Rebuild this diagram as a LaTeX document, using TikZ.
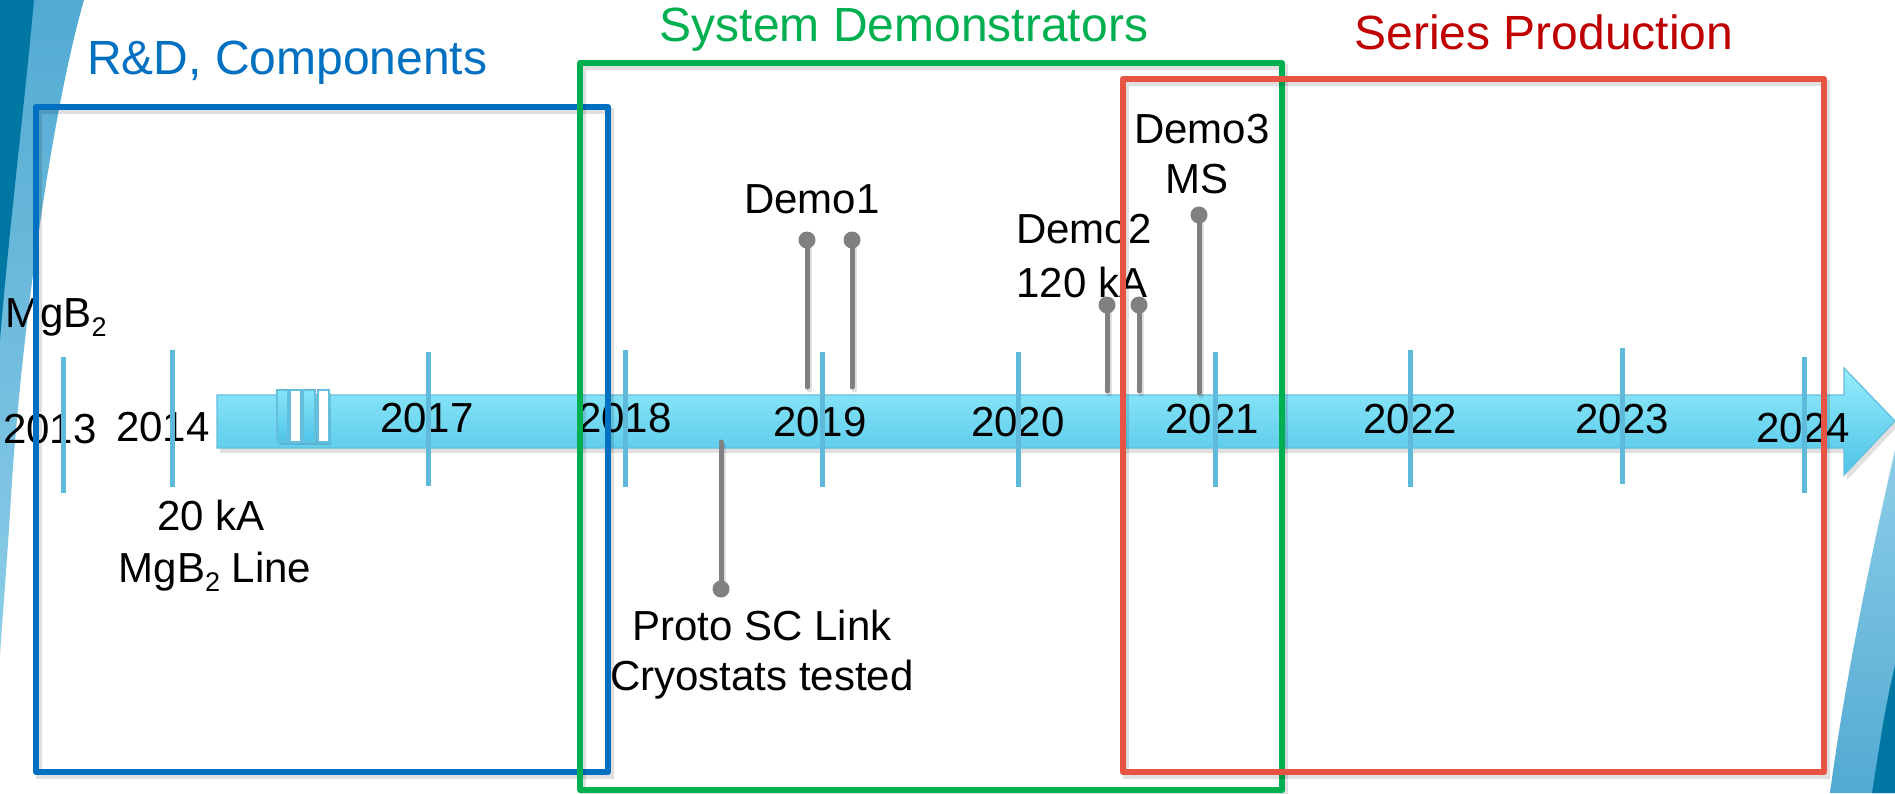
\documentclass[tikz,border=0pt]{standalone}
\usepackage{fontspec}
\setmainfont{Liberation Sans}
\definecolor{rdblue}{RGB}{0,112,192}
\definecolor{demogreen}{RGB}{0,176,80}
\definecolor{boxred}{RGB}{232,84,68}
\definecolor{titlered}{RGB}{192,0,0}
\definecolor{tickblue}{RGB}{95,185,218}
\definecolor{pingray}{RGB}{128,128,128}
\definecolor{arrowtop}{RGB}{150,236,251}
\definecolor{arrowbot}{RGB}{78,196,232}
\definecolor{arrowedge}{RGB}{100,190,222}
\definecolor{swlight}{RGB}{82,170,210}
\definecolor{swpale}{RGB}{140,205,232}
\definecolor{swdark}{RGB}{0,118,163}
\newcommand\subtwo{\raisebox{-9pt}{\fontsize{27}{30}\selectfont 2}}
\begin{document}
\begin{tikzpicture}[x=1pt,y=-1pt,
  bodytext/.style={font=\fontsize{42}{50}\selectfont, inner sep=0pt, anchor=base},
  titletext/.style={font=\fontsize{48}{56}\selectfont, inner sep=0pt, anchor=base},
  tickline/.style={draw=tickblue, line width=5pt},
  pinline/.style={draw=pingray, line width=5pt, line cap=round},
  pinshadow/.style={draw=black, opacity=0.12, line width=5pt, line cap=round},
  pinball/.style={circle, fill=pingray, minimum size=17pt, inner sep=0pt},
  framebox/.style={line width=6pt, line join=round},
  frameshadow/.style={draw=black, opacity=0.12, line width=6pt},
  breakbar/.style={draw=arrowedge, line width=1.2pt},
]
\useasboundingbox (0,0) rectangle (1895,793);
\fill[white] (0,0) rectangle (1895,793);

% decorative swooshes
\path[top color=swlight, bottom color=swpale] (0,0) -- (84,0) .. controls (55,100) and (25,300) .. (12,480)
  .. controls (8,550) and (3,610) .. (0,655) -- cycle;
\fill[swdark] (0,0) -- (34,0) .. controls (25,100) and (10,220) .. (0,340) -- cycle;
\path[top color=swpale, bottom color=swlight] (1895,450) .. controls (1870,560) and (1845,680) .. (1830,793) -- (1895,793) -- cycle;
\fill[swdark] (1895,665) .. controls (1885,710) .. (1872,793) -- (1895,793) -- cycle;

% timeline arrow
\fill[black, opacity=0.12] (220,400) -- (1847,400) -- (1847,373) -- (1898,426) -- (1847,480) -- (1847,453) -- (220,453) -- cycle;
\path[draw=arrowedge, line width=1.2pt, top color=arrowtop, bottom color=arrowbot]
  (217,395) -- (1844,395) -- (1844,368) -- (1895,421) -- (1844,475) -- (1844,448) -- (217,448) -- cycle;

% break marks
\fill[black, opacity=0.12] (279,393) rectangle (331,445);
\path[breakbar, top color=arrowtop!80!arrowbot, bottom color=arrowbot] (277,390) rectangle (288,442);
\path[breakbar, fill=white] (290,390) rectangle (301,442);
\path[breakbar, top color=arrowtop!80!arrowbot, bottom color=arrowbot] (303,390) rectangle (315,442);
\path[breakbar, fill=white] (318,390) rectangle (329,442);

% year labels
\node[bodytext] (y2013) at (50,443) {2013};
\node[bodytext] (y2014) at (163,441) {2014};
\node[bodytext] (y2017) at (427,432) {2017};
\node[bodytext] (y2018) at (625,432) {2018};
\node[bodytext] (y2019) at (820,436) {2019};
\node[bodytext] (y2020) at (1018,436) {2020};
\node[bodytext] (y2021) at (1212,433) {2021};
\node[bodytext] (y2022) at (1410,433) {2022};
\node[bodytext] (y2023) at (1622,433) {2023};
\node[bodytext] (y2024) at (1803,442) {2024};

% ticks
\draw[tickline] (63,357) -- (63,493);
\draw[tickline] (172,350) -- (172,487);
\draw[tickline] (428,352) -- (428,486);
\draw[tickline] (625,350) -- (625,487);
\draw[tickline] (822,352) -- (822,487);
\draw[tickline] (1018,352) -- (1018,487);
\draw[tickline] (1215,352) -- (1215,487);
\draw[tickline] (1410,350) -- (1410,487);
\draw[tickline] (1622,348) -- (1622,484);
\draw[tickline] (1804,357) -- (1804,493);

% pins
\coordinate (d1ae) at (807,387);
\coordinate (d1be) at (852,387);
\coordinate (d2ae) at (1107,391);
\coordinate (d2be) at (1139,391);
\coordinate (d3e) at (1199,393);
\coordinate (pre) at (721,442);
\draw[pinshadow] (809,243) -- (809,390);
\draw[pinshadow] (854,243) -- (854,390);
\draw[pinshadow] (1109,308) -- (1109,394);
\draw[pinshadow] (1141,308) -- (1141,394);
\draw[pinshadow] (1201,218) -- (1201,396);
\draw[pinshadow] (723,445) -- (723,592);
\node[pinball] (d1a) at (807,240) {};
\node[pinball] (d1b) at (852,240) {};
\node[pinball] (d2a) at (1107,305) {};
\node[pinball] (d2b) at (1139,305) {};
\node[pinball] (d3) at (1199,215) {};
\node[pinball] (pr) at (721,589) {};
\draw[pinline] (d1a.center) -- (d1ae);
\draw[pinline] (d1b.center) -- (d1be);
\draw[pinline] (d2a.center) -- (d2ae);
\draw[pinline] (d2b.center) -- (d2be);
\draw[pinline] (d3.center) -- (d3e);
\draw[pinline] (pr.center) -- (pre);

% labels
\node[bodytext, anchor=base west] (mgb) at (5,327) {MgB\subtwo};
\node[bodytext] (ka20) at (211,530) {20 kA};
\node[bodytext] (mgbline) at (215,582) {MgB\subtwo{} Line};
\node[bodytext] (demo1) at (812,213) {Demo1};
\node[bodytext] (demo2) at (1084,243) {Demo2};
\node[bodytext] (ka120) at (1082,297) {120 kA};
\node[bodytext] (demo3) at (1202,143) {Demo3};
\node[bodytext] (ms) at (1197,193) {MS};
\node[bodytext] (proto) at (762,640) {Proto SC Link};
\node[bodytext] (cryo) at (762,690) {Cryostats tested};

% phase boxes
\draw[frameshadow] (39,111) rectangle (611,776);
\draw[framebox, draw=rdblue] (36,107) rectangle (608,772);
\draw[frameshadow] (583,67) rectangle (1285,794);
\draw[framebox, draw=demogreen] (580,63) rectangle (1282,790);
\draw[frameshadow] (1126,83) rectangle (1827,776);
\draw[framebox, draw=boxred] (1123,79) rectangle (1824,772);

% titles
\node[titletext, anchor=base west, text=rdblue] (trd) at (87,74) {R\&D, Components};
\node[titletext, text=demogreen] (tsys) at (904,41) {System Demonstrators};
\node[titletext, text=titlered] (tser) at (1544,49) {Series Production};
\end{tikzpicture}
\end{document}
